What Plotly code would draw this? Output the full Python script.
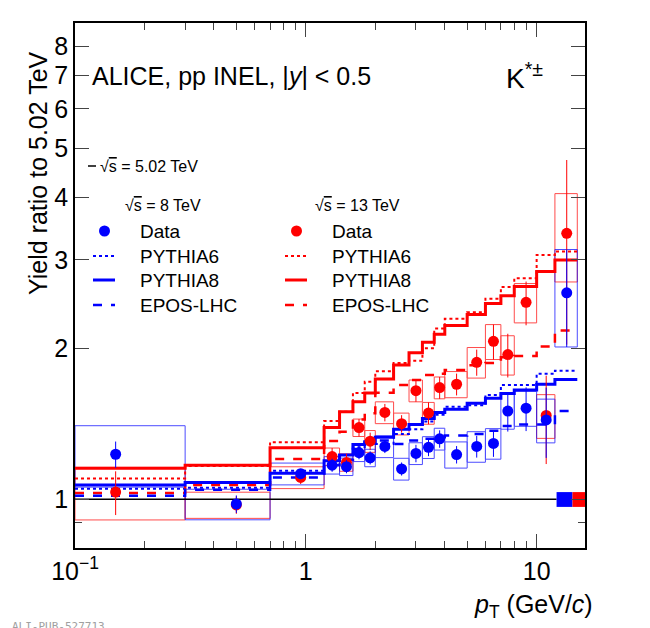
import numpy as np
import plotly.graph_objects as go

# pT bin edges (GeV/c)
edges = [0.0, 0.3, 0.7, 1.2, 1.4, 1.6, 1.8, 2.0, 2.4, 2.8, 3.2, 3.6, 4.0,
         5.0, 6.0, 7.0, 8.0, 10.0, 12.0, 15.0]
centers = [0.15, 0.5, 0.95, 1.3, 1.5, 1.7, 1.9, 2.2, 2.6, 3.0, 3.4, 3.8,
           4.5, 5.5, 6.5, 7.5, 9.0, 11.0, 13.5]

# 8 TeV / 5.02 TeV
data8 = [1.23, 0.979, 1.125, 1.17, 1.162, 1.239, 1.21, 1.275, 1.15, 1.235, 1.27,
         1.32, 1.228, 1.275, 1.293, 1.50, 1.52, 1.44, 2.58]
stat8 = [0.06, 0.04, 0.02, 0.03, 0.03, 0.03, 0.03, 0.03, 0.03, 0.04, 0.04,
         0.04, 0.04, 0.05, 0.06, 0.09, 0.10, 0.16, 0.22]
sys8 = [0.14, 0.07, 0.05, 0.04, 0.04, 0.04, 0.04, 0.05, 0.05, 0.05, 0.05,
        0.05, 0.06, 0.07, 0.07, 0.08, 0.08, 0.10, 0.22]
py8_8 = [1.068, 1.08, 1.127, 1.194, 1.226, 1.287, 1.303, 1.33, 1.379, 1.41, 1.45,
         1.489, 1.513, 1.554, 1.59, 1.625, 1.651, 1.697, 1.734]
py6_8 = [1.05, 1.055, 1.14, 1.194, 1.226, 1.27, 1.30, 1.29, 1.35, 1.379, 1.43,
         1.475, 1.53, 1.54, 1.615, 1.69, 1.69, 1.78, 1.805]
epos_8 = [1.017, 1.045, 1.105, 1.17, 1.20, 1.26, 1.30, 1.31, 1.29, 1.31, 1.32,
          1.33, 1.34, 1.35, 1.37, 1.40, 1.41, 1.41, 1.50]

# 13 TeV / 5.02 TeV
data13 = [1.034, 0.975, 1.106, 1.217, 1.185, 1.39, 1.306, 1.49, 1.415, 1.647, 1.486,
          1.67, 1.696, 1.876, 2.065, 1.944, 2.47, 1.47, 3.39]
stat13 = [0.10, 0.04, 0.03, 0.04, 0.04, 0.04, 0.04, 0.04, 0.04, 0.05, 0.05,
          0.05, 0.05, 0.06, 0.08, 0.10, 0.10, 0.20, 0.40]
sys13 = [0.12, 0.06, 0.05, 0.04, 0.04, 0.04, 0.05, 0.05, 0.05, 0.05, 0.05,
         0.05, 0.06, 0.07, 0.08, 0.09, 0.09, 0.10, 0.20]
py8_13 = [1.153, 1.17, 1.268, 1.39, 1.495, 1.566, 1.63, 1.738, 1.852, 1.96, 2.056,
          2.133, 2.22, 2.335, 2.458, 2.547, 2.655, 2.846, 3.0]
py6_13 = [1.101, 1.165, 1.30, 1.433, 1.495, 1.63, 1.716, 1.80, 1.87, 1.89, 2.0,
          2.19, 2.29, 2.36, 2.51, 2.65, 2.76, 3.07, 3.12]
epos_13 = [1.03, 1.068, 1.203, 1.307, 1.364, 1.443, 1.484, 1.632, 1.69, 1.73, 1.77,
           1.78, 1.81, 1.85, 1.87, 1.92, 1.93, 2.016, 2.17]

norm_edges = [12.2, 14.3, 16.2]
norm_unc = [0.034, 0.034]

BLUE = "#0000ff"
RED = "#ff0000"
FONT = "Liberation Sans, Arial, sans-serif"

W, H = 650, 628
ML, MR, MT, MB = 67, 73, 15, 88

fig = go.Figure()

lo_edges = [max(e, 0.1) for e in edges[:-1]]
hi_edges = edges[1:]


def boxes(vals, rel, color):
    xs, ys = [], []
    for a, b, v, r in zip(lo_edges, hi_edges, vals, rel):
        xs += [a, b, b, a, a, None]
        ys += [v * (1 - r), v * (1 - r), v * (1 + r), v * (1 + r), v * (1 - r), None]
    fig.add_trace(go.Scatter(x=xs, y=ys, mode="lines", line=dict(color=color, width=1),
                             opacity=0.7, hoverinfo="skip"))


def step(vals, color, dash, width):
    xs = [max(edges[0], 0.1)] + edges[1:]
    ys = list(vals) + [vals[-1]]
    fig.add_trace(go.Scatter(x=xs, y=ys, mode="lines", line_shape="hv",
                             line=dict(color=color, dash=dash, width=width)))


def points(vals, rel, color):
    err = [v * r for v, r in zip(vals, rel)]
    fig.add_trace(go.Scatter(x=centers, y=vals, mode="markers",
                             marker=dict(color=color, size=11),
                             error_y=dict(type="data", array=err, color=color,
                                          thickness=1, width=0)))


boxes(data13, sys13, RED)
boxes(data8, sys8, BLUE)
for v, c in [(py6_13, RED), (py6_8, BLUE)]:
    step(v, c, "dot", 2)
for v, c in [(epos_13, RED), (epos_8, BLUE)]:
    step(v, c, "dash", 2.5)
for v, c in [(py8_13, RED), (py8_8, BLUE)]:
    step(v, c, "solid", 3)

# unity line
fig.add_trace(go.Scatter(x=[0.1, norm_edges[0]], y=[1, 1], mode="lines",
                         line=dict(color="black", width=1.5)))
# normalisation boxes
for i, c in enumerate([BLUE, RED]):
    a, b = norm_edges[i], norm_edges[i + 1]
    u = norm_unc[i]
    fig.add_trace(go.Scatter(x=[a, b, b, a, a], y=[1 - u, 1 - u, 1 + u, 1 + u, 1 - u],
                             mode="lines", fill="toself", fillcolor=c,
                             line=dict(color=c, width=0)))

points(data13, stat13, RED)
points(data8, stat8, BLUE)


# pixel -> paper (plot area) coordinates
def px(x):
    return (x - ML) / (W - ML - MR)


def py(y):
    return 1 - (y - MT) / (H - MT - MB)


fig.add_shape(type="line", xref="paper", yref="paper", x0=px(80), x1=px(88),
              y0=py(158), y1=py(158), line=dict(color="black", width=1.5))
ann = [
    (90, 158, "√<span style='text-decoration:overline'>s</span> = 5.02 TeV"),
    (115, 198, "√<span style='text-decoration:overline'>s</span> = 8 TeV"),
    (305, 198, "√<span style='text-decoration:overline'>s</span> = 13 TeV"),
]
for x, y, t in ann:
    fig.add_annotation(x=px(x), y=py(y), xref="paper", yref="paper", text=t,
                       showarrow=False, xanchor="left", yanchor="middle",
                       font=dict(size=16, family=FONT, color="black"))

items = [("Data", 223, None), ("PYTHIA6", 248, "dot"), ("PYTHIA8", 272, "solid"),
         ("EPOS-LHC", 297, "dash")]
for x0, color in [(85, BLUE), (277, RED)]:
    for name, y, dash in items:
        if dash is None:
            fig.add_shape(type="circle", xref="paper", yref="paper",
                          x0=px(x0 + 6), x1=px(x0 + 17), y0=py(y + 5.5), y1=py(y - 5.5),
                          fillcolor=color, line=dict(color=color, width=0))
        else:
            w = {"dot": 2, "solid": 3, "dash": 2.5}[dash]
            fig.add_shape(type="line", xref="paper", yref="paper",
                          x0=px(x0), x1=px(x0 + 22), y0=py(y), y1=py(y),
                          line=dict(color=color, width=w, dash=dash))
        fig.add_annotation(x=px(x0 + 45), y=py(y), xref="paper", yref="paper",
                           text=name, showarrow=False, xanchor="left", yanchor="middle",
                           font=dict(size=19, family=FONT, color="black"))

fig.add_annotation(x=px(82), y=py(68), xref="paper", yref="paper",
                   text="ALICE, pp INEL, |<i>y</i>| < 0.5", showarrow=False,
                   xanchor="left", yanchor="middle",
                   font=dict(size=25, family=FONT, color="black"))
fig.add_annotation(x=px(496), y=py(68), xref="paper", yref="paper",
                   text="K<sup>*±</sup>", showarrow=False,
                   xanchor="left", yanchor="middle",
                   font=dict(size=28, family=FONT, color="black"))
fig.add_annotation(x=px(587), y=py(598), xref="paper", yref="paper",
                   text="<i>p</i><sub>T</sub> (GeV/<i>c</i>)", showarrow=False,
                   xanchor="right", yanchor="middle",
                   font=dict(size=25, family=FONT, color="black"))
fig.add_annotation(x=px(2), y=py(618), xref="paper", yref="paper",
                   text="ALI-PUB-527713", showarrow=False,
                   xanchor="left", yanchor="middle",
                   font=dict(size=11, family="DejaVu Sans Mono", color="#a0a0a0"))
fig.add_annotation(x=px(30), y=py(165), xref="paper", yref="paper",
                   text="Yield ratio to 5.02 TeV", showarrow=False, textangle=-90,
                   xanchor="center", yanchor="middle",
                   font=dict(size=25, family=FONT, color="black"))

fig.update_layout(
    width=W, height=H, showlegend=False,
    paper_bgcolor="white", plot_bgcolor="white",
    margin=dict(l=ML, r=MR, t=MT, b=MB),
    font=dict(family=FONT, size=25, color="black"),
    xaxis=dict(type="log", range=[-1, np.log10(16.2)], showgrid=False, zeroline=False,
               automargin=False, ticks="inside", ticklen=14, mirror="allticks",
               showline=True, linecolor="black", linewidth=1.5,
               tickvals=[0.1, 1, 10], ticktext=["10<sup>−1</sup>", "1", "10"],
               minor=dict(ticks="inside", ticklen=7,
                          tickvals=[0.2, 0.3, 0.4, 0.5, 0.6, 0.7, 0.8, 0.9,
                                    2, 3, 4, 5, 6, 7, 8, 9])),
    yaxis=dict(type="log", range=[np.log10(0.8), np.log10(8.9)], showgrid=False,
               zeroline=False, automargin=False, ticks="inside", ticklen=14,
               mirror="allticks", showline=True, linecolor="black", linewidth=1.5,
               tickvals=[1, 2, 3, 4, 5, 6, 7, 8],
               minor=dict(ticks="inside", ticklen=7, tickvals=[0.9])),
)

fig.write_html("out.html")
